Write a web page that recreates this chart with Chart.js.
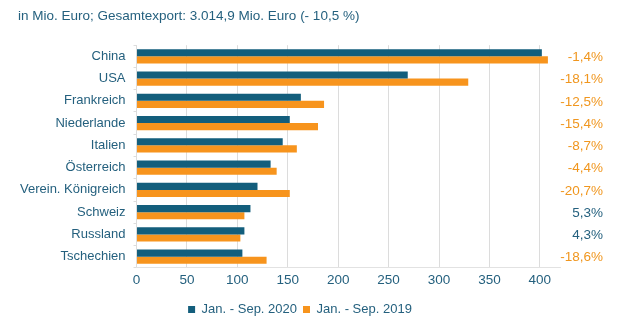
<!DOCTYPE html>
<html>
<head>
<meta charset="utf-8">
<script src="https://cdn.jsdelivr.net/npm/chart.js@4"></script>
<style>
html,body{margin:0;padding:0;background:#fff;}
#wrap{width:630px;height:327px;position:relative;}
</style>
</head>
<body>
<div id="wrap"><canvas id="c" width="630" height="327"></canvas></div>
<script>
const categories = ["China","USA","Frankreich","Niederlande","Italien","Österreich","Verein. Königreich","Schweiz","Russland","Tschechien"];
const values2020 = [402, 269, 163, 152, 145, 133, 120, 113, 107, 105];
const values2019 = [408, 329, 186, 180, 159, 139, 152, 107, 103, 129];
const changeLabels = ["-1,4%","-18,1%","-12,5%","-15,4%","-8,7%","-4,4%","-20,7%","5,3%","4,3%","-18,6%"];
const xTickValues = [0, 50, 100, 150, 200, 250, 300, 350, 400];
const seriesNames = ["Jan. - Sep. 2020","Jan. - Sep. 2019"];
const titleText = "in Mio. Euro; Gesamtexport: 3.014,9 Mio. Euro (- 10,5 %)";

const TEAL = "#135e7c";
const ORANGE = "#f7941d";
const TEXT = "#24607e";
const FONT = "'Liberation Sans', Arial, sans-serif";

const pctPlugin = {
  id: 'pct',
  afterLayout(chart) {
    if (chart.legend) {
      chart.legend.left += 14; chart.legend.right += 14;
      chart.legend.top += 5; chart.legend.bottom += 5;
    }
    if (chart.titleBlock) { chart.titleBlock.left += 6; chart.titleBlock.right += 6; }
  },
  afterDatasetsDraw(chart) {
    const ctx = chart.ctx;
    const y = chart.scales.y;
    ctx.save();
    ctx.font = "13.5px " + FONT;
    ctx.textAlign = "right";
    ctx.textBaseline = "middle";
    changeLabels.forEach((t, i) => {
      ctx.fillStyle = t.trim().startsWith("-") ? "#f0961e" : TEXT;
      ctx.fillText(t, chart.chartArea.right + 43, y.getPixelForValue(i) + 1);
    });
    ctx.restore();
  }
};

new Chart(document.getElementById('c'), {
  type: 'bar',
  data: {
    labels: categories,
    datasets: [
      {label: seriesNames[0], data: values2020, backgroundColor: TEAL},
      {label: seriesNames[1], data: values2019, backgroundColor: ORANGE}
    ]
  },
  options: {
    indexAxis: 'y',
    responsive: false,
    animation: false,
    devicePixelRatio: 1,
    datasets: {bar: {categoryPercentage: 0.64, barPercentage: 1.0}},
    layout: {padding: {left: 12, right: 70, top: 0, bottom: 6}},
    scales: {
      x: {
        min: 0, max: 420,
        afterBuildTicks(s) { s.ticks = xTickValues.map(v => ({value: v})); },
        ticks: {color: TEXT, font: {family: FONT, size: 13.5}, padding: 4},
        grid: {color: "#dcdcdc", drawTicks: false},
        border: {color: "#e2e2e2"}
      },
      y: {
        ticks: {color: TEXT, font: {family: FONT, size: 13}, padding: 8},
        grid: {drawOnChartArea: false, drawTicks: true, tickLength: 3, color: "#dcdcdc"},
        border: {display: false}
      }
    },
    plugins: {
      title: {
        display: true, text: titleText, align: 'start',
        color: TEXT, font: {family: FONT, size: 13.5, weight: 'normal'},
        padding: {top: 8, bottom: 21}
      },
      legend: {
        position: 'bottom',
        labels: {color: TEXT, font: {family: FONT, size: 13}, boxWidth: 7, boxHeight: 7, padding: 6}
      },
      tooltip: {enabled: false}
    }
  },
  plugins: [pctPlugin]
});
</script>
</body>
</html>
